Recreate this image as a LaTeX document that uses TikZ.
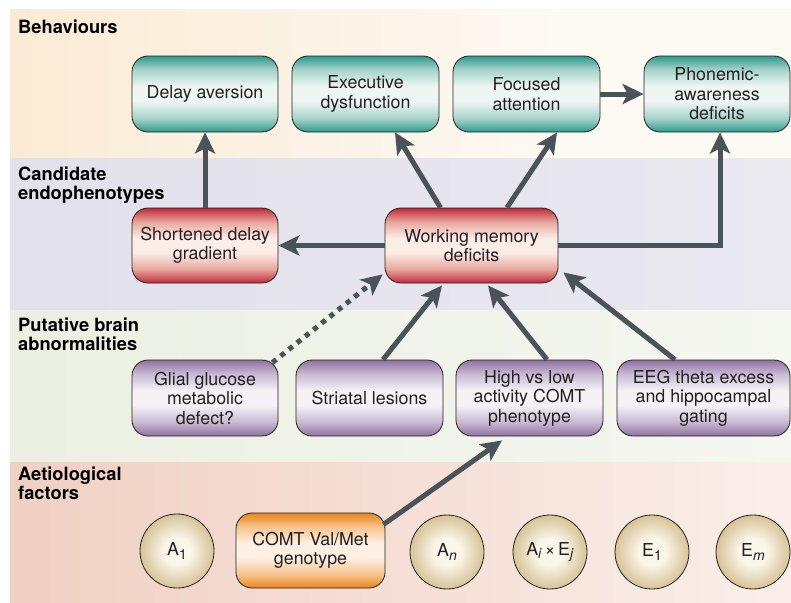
\documentclass[tikz,border=0pt]{standalone}
\usepackage{fontspec}
\setmainfont{TeX Gyre Heros}
\usetikzlibrary{arrows.meta,calc}

\definecolor{behL}{HTML}{FBEBD5}
\definecolor{behR}{HTML}{FDF9F3}
\definecolor{canL}{HTML}{E2E1EC}
\definecolor{canR}{HTML}{EAE9F0}
\definecolor{braL}{HTML}{EBF0E2}
\definecolor{braR}{HTML}{F5F7F1}
\definecolor{aetL}{HTML}{F0D0C3}
\definecolor{aetR}{HTML}{FBEEE9}
\definecolor{arrowc}{HTML}{4A535A}
\definecolor{txt}{HTML}{231F20}
\definecolor{tealD}{HTML}{2E9A8D}
\definecolor{tealL}{HTML}{A6D2CA}
\definecolor{tealW}{HTML}{EEF6F3}
\definecolor{redD}{HTML}{C0283A}
\definecolor{redL}{HTML}{E7A49A}
\definecolor{redW}{HTML}{FCEDE6}
\definecolor{purD}{HTML}{8E73A0}
\definecolor{purL}{HTML}{C8B8D2}
\definecolor{purW}{HTML}{F5F1F6}
\definecolor{oraD}{HTML}{E9851A}
\definecolor{oraL}{HTML}{F6C28C}
\definecolor{oraW}{HTML}{FEF0E2}
\definecolor{cin}{HTML}{FBF6EA}
\definecolor{cout}{HTML}{D6C397}

\pgfdeclareverticalshading{tealsh}{100bp}{color(0bp)=(tealD); color(25bp)=(tealD); color(34bp)=(tealL); color(45bp)=(tealW); color(55bp)=(tealW); color(66bp)=(tealL); color(75bp)=(tealD); color(100bp)=(tealD)}
\pgfdeclareverticalshading{redsh}{100bp}{color(0bp)=(redD); color(25bp)=(redD); color(34bp)=(redL); color(45bp)=(redW); color(55bp)=(redW); color(66bp)=(redL); color(75bp)=(redD); color(100bp)=(redD)}
\pgfdeclareverticalshading{pursh}{100bp}{color(0bp)=(purD); color(25bp)=(purD); color(34bp)=(purL); color(45bp)=(purW); color(55bp)=(purW); color(66bp)=(purL); color(75bp)=(purD); color(100bp)=(purD)}
\pgfdeclareverticalshading{orash}{100bp}{color(0bp)=(oraD); color(25bp)=(oraD); color(34bp)=(oraL); color(45bp)=(oraW); color(55bp)=(oraW); color(66bp)=(oraL); color(75bp)=(oraD); color(100bp)=(oraD)}
\pgfdeclareradialshading{circsh}{\pgfpoint{0bp}{0bp}}{color(0bp)=(cin); color(9bp)=(cin); color(25bp)=(cout); color(50bp)=(cout)}
\pgfdeclarehorizontalshading{behsh}{100bp}{color(0bp)=(behL); color(25bp)=(behL); color(60bp)=(behR); color(100bp)=(behR)}
\pgfdeclarehorizontalshading{cansh}{100bp}{color(0bp)=(canL); color(25bp)=(canL); color(75bp)=(canR); color(100bp)=(canR)}
\pgfdeclarehorizontalshading{brash}{100bp}{color(0bp)=(braL); color(25bp)=(braL); color(75bp)=(braR); color(100bp)=(braR)}
\pgfdeclarehorizontalshading{aetsh}{100bp}{color(0bp)=(aetL); color(25bp)=(aetL); color(75bp)=(aetR); color(100bp)=(aetR)}

\newcommand{\facsub}[1]{\raisebox{-0.35ex}{\fontsize{14}{14}\selectfont #1}}

\tikzset{
  box/.style={rectangle, rounded corners=16pt, draw=txt, line width=0.8pt,
    minimum height=76pt, inner sep=2pt, align=center, text=txt,
    font=\fontsize{17.8}{19.5}\selectfont},
  beh/.style={box, shading=tealsh},
  endo/.style={box, shading=redsh},
  brain/.style={box, shading=pursh},
  comtbox/.style={box, shading=orash, minimum height=75pt},
  fac/.style={circle, draw=txt, line width=0.8pt, minimum size=74pt, inner sep=0pt,
    shading=circsh, text=txt, font=\fontsize{17.8}{19.5}\selectfont},
  band/.style={anchor=north west, inner sep=0pt, align=left,
    font=\fontsize{18.3}{19}\selectfont\bfseries, text=black},
  arr/.style={draw=arrowc, line width=5pt, line join=miter,
    -{Stealth[length=21pt,width=20pt,inset=5pt]}},
  dotarr/.style={dash pattern=on 5pt off 5.5pt}
}

\begin{document}
\begin{tikzpicture}[x=1pt, y=-1pt]
\useasboundingbox (0,0) rectangle (791,602);
\fill[white] (0,0) rectangle (791,602);
% bands
\shade[shading=behsh] (10,10) rectangle (791,158);
\shade[shading=cansh] (10,158) rectangle (791,310);
\shade[shading=brash] (10,310) rectangle (791,462);
\shade[shading=aetsh] (10,462) rectangle (791,602);

% band labels
\node[band] (lbeh) at (18,20) {Behaviours};
\node[band] (lcan) at (18,167) {Candidate\\endophenotypes};
\node[band] (lbra) at (18,318) {Putative brain\\abnormalities};
\node[band] (laet) at (18,467) {Aetiological\\factors};

% behaviours
\node[beh, minimum width=146pt] (da) at (205,94) {Delay aversion};
\node[beh, minimum width=147pt] (ed) at (365.5,94) {Executive\\dysfunction};
\node[beh, minimum width=147pt] (fa) at (526.5,94) {Focused\\attention};
\node[beh, minimum width=146pt] (pa) at (717,94) {Phonemic-\\awareness\\deficits};

% endophenotypes
\node[endo, minimum width=146pt, minimum height=75pt] (sdg) at (205,245.5) {Shortened delay\\gradient};
\node[endo, minimum width=173pt, minimum height=75pt] (wm) at (471.5,245.5) {Working memory\\deficits};

% brain abnormalities
\node[brain, minimum width=146pt] (gg) at (205,398) {Glial glucose\\metabolic\\defect?};
\node[brain, minimum width=147pt] (sl) at (369.5,398) {Striatal lesions};
\node[brain, minimum width=147pt] (hl) at (529.5,398) {High vs low\\activity COMT\\phenotype};
\node[brain, minimum width=173pt] (eeg) at (703.5,398) {EEG theta excess\\and hippocampal\\gating};

% aetiological factors
\node[fac] (a1) at (177,551) {A\facsub{1}};
\node[comtbox, minimum width=149pt] (comt) at (310.5,550.5) {COMT Val/Met\\genotype};
\node[fac] (an) at (447,552) {A\facsub{\textit{n}}};
\node[fac] (aiej) at (550,552) {A\facsub{\textit{i}}\,×\,E\facsub{\textit{j}}};
\node[fac] (e1) at (652,552) {E\facsub{1}};
\node[fac] (em) at (753,552) {E\facsub{\textit{m}}};

% connectors
\draw[arr] (sdg.north) -- (da.south);
\draw[arr] ([shift={(-31,0)}]wm.north) -- ([shift={(29.5,0)}]ed.south);
\draw[arr] ([shift={(35.5,0)}]wm.north) -- ([shift={(30.5,0)}]fa.south);
\draw[arr] (wm.west) -- (sdg.east);
\draw[arr] (wm.east) -| ([shift={(3,0)}]pa.south);
\draw[arr] (fa.east) -- (pa.west);
\draw[arr, dotarr] ([shift={(-6,3)}]gg.north east) -- ([shift={(-2,-9)}]wm.south west);
\draw[arr] ([shift={(13.5,0)}]sl.north) -- ([shift={(-29.5,2)}]wm.south);
\draw[arr] ([shift={(17.5,0)}]hl.north) -- ([shift={(16.5,2)}]wm.south);
\draw[arr] ([shift={(-28.5,0)}]eeg.north) -- ([shift={(5,-11)}]wm.south east);
\draw[arr] ([shift={(-2,-26)}]comt.east) -- ([shift={(-27.5,4)}]hl.south);
\end{tikzpicture}
\end{document}
